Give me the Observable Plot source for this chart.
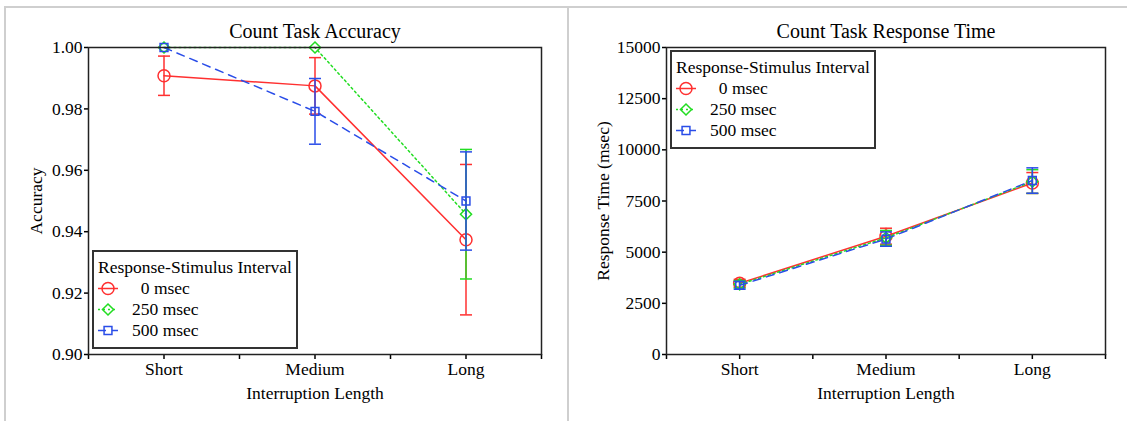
<!DOCTYPE html>
<html><head><meta charset="utf-8">
<script src="https://cdn.jsdelivr.net/npm/d3@7"></script>
<script src="https://cdn.jsdelivr.net/npm/@observablehq/plot@0.6"></script>
<style>
body{margin:0;background:#fff;}
#wrap{position:relative;width:1127px;height:421px;overflow:hidden;font-family:"Liberation Serif",serif;background:#fff;}
.panel{position:absolute;top:0;}
.rule{position:absolute;background:#cfcfcf;}
.legend{position:absolute;box-sizing:border-box;width:206px;height:99px;border:2px solid #333;background:#fff;padding:5px 0 0 4px;font-family:"Liberation Serif",serif;font-size:17.5px;line-height:21px;color:#000;white-space:pre;}
.row{display:flex;align-items:center;height:21px;}
.row svg{display:block;}
</style></head>
<body><div id="wrap"></div>
<script>
// ---- data ----
const categories = ["Short", "Medium", "Long"];
const intervals = ["0 msec", "250 msec", "500 msec"];
const legendTitle = "Response-Stimulus Interval";

const accuracy0   = [0.9908, 0.9875, 0.9374];
const accuracy250 = [1.0000, 1.0000, 0.9457];
const accuracy500 = [1.0000, 0.9792, 0.9500];
const accuracyErr0   = [0.0064, 0.0092, 0.0245];
const accuracyErr250 = [0, 0, 0.0211];
const accuracyErr500 = [0, 0.0107, 0.0160];

const rt0   = [3480, 5780, 8380];
const rt250 = [3430, 5700, 8450];
const rt500 = [3380, 5640, 8500];
const rtErr0   = [190, 390, 510];
const rtErr250 = [180, 360, 580];
const rtErr500 = [190, 350, 620];

const accTicks = [0.90, 0.92, 0.94, 0.96, 0.98, 1.00];
const rtTicks = [0, 2500, 5000, 7500, 10000, 12500, 15000];

// ---- styles ----
const colors = ["#ff3030", "#22dd22", "#2a4de8"];
const dashes = [null, "2,3", "8,6"];
const symbols = ["circle", "diamond2", "square2"];
const radii = [6, 5, 5];
const FONT = "Liberation Serif";

const capSymbol = {draw(ctx, size) { const r = Math.sqrt(size / Math.PI); ctx.moveTo(-r, 0); ctx.lineTo(r, 0); }};

function table(means, errs) {
  return means.flatMap((arr, s) => arr.map((v, i) => ({series: s, name: intervals[s], x: i + 1, y: v, err: errs[s][i]})));
}

function panel({width, marginLeft, marginRight, yDomain, yTicks, yFormat, title, ylabel, ylabelDx, data}) {
  const marks = [
    Plot.axisY({ticks: yTicks, tickFormat: yFormat, tickSize: 4, tickPadding: 2, label: null, strokeWidth: 1.5, fontFamily: FONT, fontSize: 17.5}),
    Plot.axisX({ticks: [1, 2, 3], tickFormat: d => categories[d - 1], tickSize: 5, tickPadding: 3, label: null, strokeWidth: 1.5, fontFamily: FONT, fontSize: 17.5}),
    Plot.axisX({ticks: [0.5, 1.5, 2.5, 3.5], tickFormat: () => "", tickSize: 5, label: null, strokeWidth: 1.5})
  ];
  for (let s = 0; s < intervals.length; s++) {
    const d = data.filter(r => r.series === s);
    const e = d.filter(r => r.err > 0);
    marks.push(
      Plot.ruleX(e, {x: "x", y1: r => r.y - r.err, y2: r => r.y + r.err, stroke: colors[s], strokeWidth: 1.5}),
      Plot.dot(e, {x: "x", y: r => r.y + r.err, symbol: capSymbol, r: 6, stroke: colors[s], strokeWidth: 1.5}),
      Plot.dot(e, {x: "x", y: r => r.y - r.err, symbol: capSymbol, r: 6, stroke: colors[s], strokeWidth: 1.5}),
      Plot.line(d, {x: "x", y: "y", stroke: colors[s], strokeWidth: 1.5, strokeDasharray: dashes[s]}),
      Plot.dot(d, {x: "x", y: "y", symbol: symbols[s], r: radii[s], stroke: colors[s], fill: "none", strokeWidth: 1.5})
    );
  }
  marks.push(
    Plot.frame({stroke: "#222", strokeWidth: 1.5}),
    Plot.text([title], {text: d => d, frameAnchor: "top", dy: -16, lineAnchor: "middle", fontSize: 20, fontFamily: FONT}),
    Plot.text(["Interruption Length"], {text: d => d, frameAnchor: "bottom", dy: 39, lineAnchor: "middle", fontSize: 17.5, fontFamily: FONT}),
    Plot.text([ylabel], {text: d => d, frameAnchor: "left", dx: ylabelDx, rotate: -90, textAnchor: "middle", lineAnchor: "middle", fontSize: 17.5, fontFamily: FONT})
  );
  return Plot.plot({
    width, height: 421, marginLeft, marginRight, marginTop: 47, marginBottom: 67,
    x: {type: "linear", domain: [0.5, 3.5]},
    y: {type: "linear", domain: yDomain},
    style: {fontFamily: FONT, fontSize: "17.5px", color: "#000", background: "transparent", overflow: "visible"},
    marks
  });
}

function legend(left, top) {
  const div = document.createElement("div");
  div.className = "legend";
  div.style.left = left + "px";
  div.style.top = top + "px";
  const t = document.createElement("div");
  t.textContent = legendTitle;
  div.appendChild(t);
  intervals.forEach((name, s) => {
    const row = document.createElement("div");
    row.className = "row";
    const svg = d3.create("svg").attr("width", 34).attr("height", 21);
    svg.append("line").attr("x1", 0).attr("x2", 20).attr("y1", 10.5).attr("y2", 10.5)
      .attr("stroke", colors[s]).attr("stroke-width", 1.5).attr("stroke-dasharray", dashes[s]);
    const sym = {circle: d3.symbolCircle, diamond2: d3.symbolDiamond2, square2: d3.symbolSquare2}[symbols[s]];
    svg.append("path").attr("transform", "translate(10,10.5)")
      .attr("d", d3.symbol(sym, Math.PI * radii[s] * radii[s])())
      .attr("fill", "none").attr("stroke", colors[s]).attr("stroke-width", 1.5);
    row.appendChild(svg.node());
    const sp = document.createElement("span");
    sp.textContent = name.padStart(8);
    row.appendChild(sp);
    div.appendChild(row);
  });
  return div;
}

const wrap = document.getElementById("wrap");
[["rule", 5, 6, 1122, 1.5], ["rule", 4, 6, 1.5, 415], ["rule", 567, 6, 1.5, 415]].forEach(([c, l, t, w, h]) => {
  const r = document.createElement("div"); r.className = c;
  Object.assign(r.style, {left: l + "px", top: t + "px", width: w + "px", height: h + "px"});
  wrap.appendChild(r);
});

const left = panel({
  width: 568, marginLeft: 88, marginRight: 27,
  yDomain: [0.90, 1.00], yTicks: accTicks, yFormat: d3.format(".2f"),
  title: "Count Task Accuracy", ylabel: "Accuracy", ylabelDx: -52,
  data: table([accuracy0, accuracy250, accuracy500], [accuracyErr0, accuracyErr250, accuracyErr500])
});
left.classList.add("panel"); left.style.left = "0px";
wrap.appendChild(left);

const right = panel({
  width: 559, marginLeft: 98, marginRight: 22,
  yDomain: [0, 15000], yTicks: rtTicks, yFormat: d => String(d),
  title: "Count Task Response Time", ylabel: "Response Time (msec)", ylabelDx: -63,
  data: table([rt0, rt250, rt500], [rtErr0, rtErr250, rtErr500])
});
right.classList.add("panel"); right.style.left = "568px";
wrap.appendChild(right);

wrap.appendChild(legend(92, 250));
wrap.appendChild(legend(670, 50));
</script>
</body></html>
